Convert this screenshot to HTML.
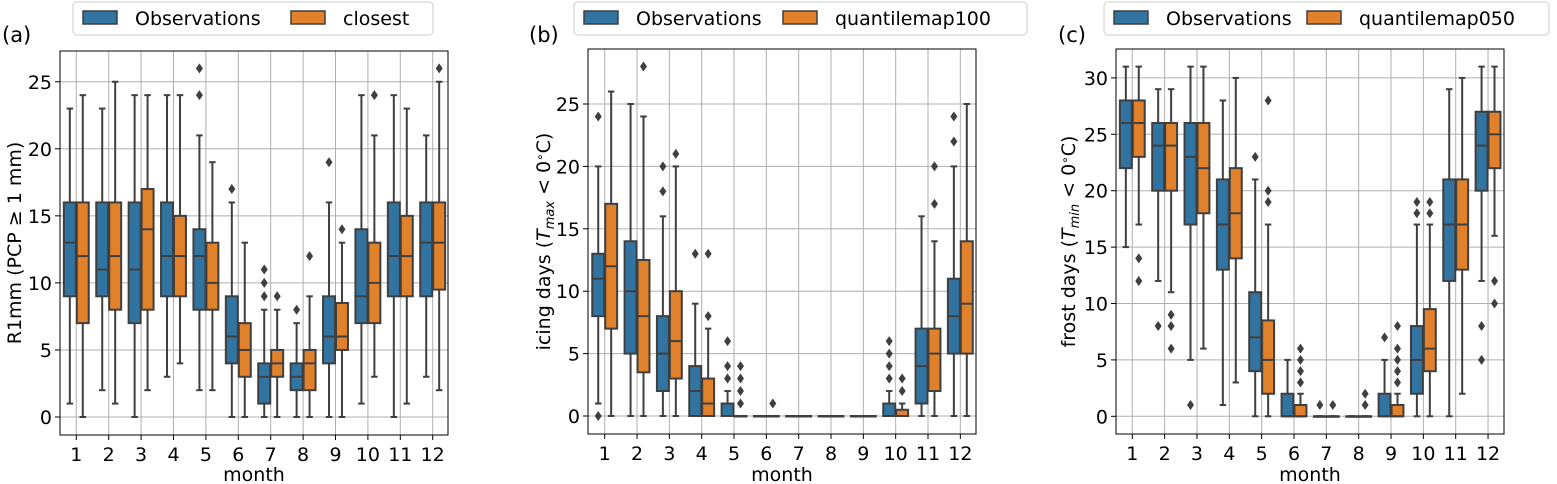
<!DOCTYPE html>
<html><head><meta charset="utf-8"><style>
body{margin:0;background:#fff;}
svg{display:block;font-family:"DejaVu Sans","Liberation Sans",sans-serif;}
</style></head><body>
<svg id="fig" width="1557" height="484" xmlns="http://www.w3.org/2000/svg"></svg>
<script>
const months = [1,2,3,4,5,6,7,8,9,10,11,12];
// [whislo, q1, median, q3, whishi, fliers]
const r1mmObs = [[1,9,13,16,23,[]],[2,9,11,16,23,[]],[0,7,11,16,24,[]],[3,9,12,16,24,[]],[2,8,12,14,21,[24,26]],[0,4,6,9,16,[17]],[0,1,3,4,8,[9,10,11]],[0,2,3,4,7,[8]],[0,4,6,9,16,[19]],[1,7,9,14,24,[]],[0,9,12,16,24,[]],[3,9,13,16,21,[]]];
const r1mmClosest = [[0,7,12,16,24,[]],[1,8,12,16,25,[]],[2,8,14,17,24,[]],[4,9,12,15,24,[]],[2,8,10,13,19,[]],[0,3,5,7,13,[]],[0,3,4,5,8,[9]],[0,2,4,5,9,[12]],[0,5,6,8.5,13,[14]],[3,7,10,13,21,[24]],[1,9,12,15,23,[]],[2,9.5,13,16,25,[26]]];
const icingObs = [[1,8,11,13,20,[0,24]],[0,5,10,14,25,[]],[0,2,5,8,16,[18,20]],[0,0,2,4,9,[13]],[0,0,0,1,2,[3,4,6]],[0,0,0,0,0,[]],[0,0,0,0,0,[]],[0,0,0,0,0,[]],[0,0,0,0,0,[]],[0,0,0,1,2,[3,4,5,6]],[0,1,4,7,16,[]],[0,5,8,11,20,[22,24]]];
const icingQm100 = [[0,7,12,17,26,[]],[0,3.5,8,12.5,24,[28]],[0,3,6,10,20,[21]],[0,0,1,3,7,[8,13]],[0,0,0,0,0,[1,2,3,4]],[0,0,0,0,0,[1]],[0,0,0,0,0,[]],[0,0,0,0,0,[]],[0,0,0,0,0,[]],[0,0,0,0.5,1,[2,3]],[0,2,5,7,14,[17,20]],[0,5,9,14,25,[]]];
const frostObs = [[15,22,26,28,31,[]],[12,20,24,26,29,[8]],[5,17,23,26,31,[1]],[1,13,17,21,28,[]],[0,4,7,11,21,[23]],[0,0,0,2,5,[]],[0,0,0,0,0,[1]],[0,0,0,0,0,[]],[0,0,0,2,5,[7]],[0,2,5,8,17,[18,19]],[0,12,17,21,29,[]],[12,20,24,27,31,[5,8]]];
const frostQm050 = [[17,23,26,28,31,[12,14]],[11,20,24,26,29,[6,8,9]],[6,18,22,26,31,[]],[3,14,18,22,30,[]],[0,2,5,8.5,17,[19,20,28]],[0,0,0,1,2,[3,4,5,6]],[0,0,0,0,0,[1]],[0,0,0,0,0,[1,2]],[0,0,0,1,2,[3,4,5,6,8]],[0,4,6,9.5,17,[18,19]],[2,13,17,21,30,[]],[16,22,25,27,31,[10,12]]];
const ticksA = [0,5,10,15,20,25];
const ticksB = [0,5,10,15,20,25];
const ticksC = [0,5,10,15,20,25,30];

const NS="http://www.w3.org/2000/svg";
const svg=document.getElementById('fig');
function mk(tag,attrs,parent,text){const e=document.createElementNS(NS,tag);for(const k in attrs)e.setAttribute(k,attrs[k]);if(text!==undefined)e.textContent=text;(parent||svg).appendChild(e);return e;}
const BLUE="#3274a1",ORANGE="#e1812c",EDGE="#3f3f3f";
const FS=19;

function panel(cfg){
  const g=mk('g',{});
  
  
  const L=cfg.left,R=cfg.right,T=cfg.top,B=cfg.bottom;
  const yS=v=>cfg.y0-(v)*cfg.unit;
  const xS=i=>cfg.x1+i*cfg.step;
  cfg.ticks.forEach(t=>{
    const gl=mk('line',{x1:L,x2:R,y1:yS(t),y2:yS(t),stroke:'#b0b0b0','stroke-width':1},g);
    
    
    mk('line',{x1:L-5,x2:L,y1:yS(t),y2:yS(t),stroke:'#000','stroke-width':1},g);
    const tl=mk('text',{x:L-8,y:yS(t)+7,'text-anchor':'end','font-size':FS,fill:'#000'},g,String(t));
    
    
  });
  months.forEach((m,i)=>{
    const gl=mk('line',{x1:xS(i),x2:xS(i),y1:T,y2:B,stroke:'#b0b0b0','stroke-width':1},g);
    
    
    mk('line',{x1:xS(i),x2:xS(i),y1:B,y2:B+5,stroke:'#000','stroke-width':1},g);
    const tl=mk('text',{x:xS(i),y:B+26,'text-anchor':'middle','font-size':FS,fill:'#000'},g,String(m));
    
    
  });
  const bw=cfg.step*0.4;
  [[cfg.s1,BLUE,-1,'obs'],[cfg.s2,ORANGE,0,cfg.s2name]].forEach(([ser,col,off,nm])=>{
    ser.forEach((d,i)=>{
      const x0=xS(i)+off*bw, xc=x0+bw/2;
      const [lo,q1,md,q3,hi,fl]=d;
      const bg=mk('g',{},g);
      
      
      mk('line',{x1:xc,x2:xc,y1:yS(lo),y2:yS(q1),stroke:EDGE,'stroke-width':2},bg);
      mk('line',{x1:xc,x2:xc,y1:yS(q3),y2:yS(hi),stroke:EDGE,'stroke-width':2},bg);
      mk('line',{x1:xc-bw/4,x2:xc+bw/4,y1:yS(lo),y2:yS(lo),stroke:EDGE,'stroke-width':2},bg);
      mk('line',{x1:xc-bw/4,x2:xc+bw/4,y1:yS(hi),y2:yS(hi),stroke:EDGE,'stroke-width':2},bg);
      mk('rect',{x:x0+0.5,y:yS(q3),width:bw-1,height:Math.max(yS(q1)-yS(q3),0.5),fill:col,stroke:EDGE,'stroke-width':2},bg);
      mk('line',{x1:x0+0.5,x2:x0+bw-0.5,y1:yS(md),y2:yS(md),stroke:EDGE,'stroke-width':2},bg);
      fl.forEach(v=>{
        const y=yS(v);
        const p=mk('polygon',{points:`${xc},${y-5} ${xc+3.5},${y} ${xc},${y+5} ${xc-3.5},${y}`,fill:EDGE},bg);
        
        
      });
    });
  });
  const fr=mk('rect',{x:L,y:T,width:R-L,height:B-T,fill:'none',stroke:'#000','stroke-width':1},g);
  
  
  const xl=mk('text',{x:(L+R)/2,y:481,'text-anchor':'middle','font-size':FS},g,'month');
  
  
  const pl=mk('text',{x:cfg.labX,y:42,'font-size':21},g,cfg.label);
  
  
  const yt=mk('text',{x:0,y:0,'text-anchor':'middle','font-size':FS,transform:`translate(${cfg.ytX},${(T+B)/2}) rotate(-90)`},g);
  
  
  yt.innerHTML=cfg.ytitle;
  const lg=mk('g',{},g);
  
  
  mk('rect',{x:cfg.lg[0],y:2,width:cfg.lg[1]-cfg.lg[0],height:33,rx:4,fill:'#fff',stroke:'#cccccc','stroke-width':1},lg);
  [[cfg.lg[0]+10,BLUE,'Observations'],[cfg.lg[2],ORANGE,cfg.s2label]].forEach(([x,c,t])=>{
    const e=mk('g',{},lg);
    
    
    mk('rect',{x:x,y:11,width:34,height:13,fill:c,stroke:EDGE,'stroke-width':1.5},e);
    mk('text',{x:x+52,y:25,'font-size':FS},e,t);
  });
}
panel({name:'panel-a-r1mm',left:60,right:448,top:51,bottom:435,y0:417,unit:13.41,x1:76.3,step:32.4,ticks:ticksA,s1:r1mmObs,s2:r1mmClosest,s2name:'closest',s2label:'closest',labX:2,label:'(a)',ytX:21,ytitle:'R1mm (PCP ≥ 1 mm)',lg:[73,433,291]});
panel({name:'panel-b-icing',left:588,right:976,top:49,bottom:434,y0:416,unit:12.48,x1:604.7,step:32.33,ticks:ticksB,s1:icingObs,s2:icingQm100,s2name:'quantilemap100',s2label:'quantilemap100',labX:529,label:'(b)',ytX:550,ytitle:'icing days (<tspan font-style="italic">T</tspan><tspan font-size="13" dy="4" font-style="italic">max</tspan><tspan dy="-4"> &lt; 0</tspan><tspan font-size="12" dy="-6">∘</tspan><tspan dy="6">C)</tspan>',lg:[574,1027,783]});
panel({name:'panel-c-frost',left:1116,right:1504,top:49,bottom:434,y0:416.3,unit:11.28,x1:1132.3,step:32.34,ticks:ticksC,s1:frostObs,s2:frostQm050,s2name:'quantilemap050',s2label:'quantilemap050',labX:1058,label:'(c)',ytX:1075,ytitle:'frost days (<tspan font-style="italic">T</tspan><tspan font-size="13" dy="4" font-style="italic">min</tspan><tspan dy="-4"> &lt; 0</tspan><tspan font-size="12" dy="-6">∘</tspan><tspan dy="6">C)</tspan>',lg:[1104,1549,1307]});
</script>
</body></html>
